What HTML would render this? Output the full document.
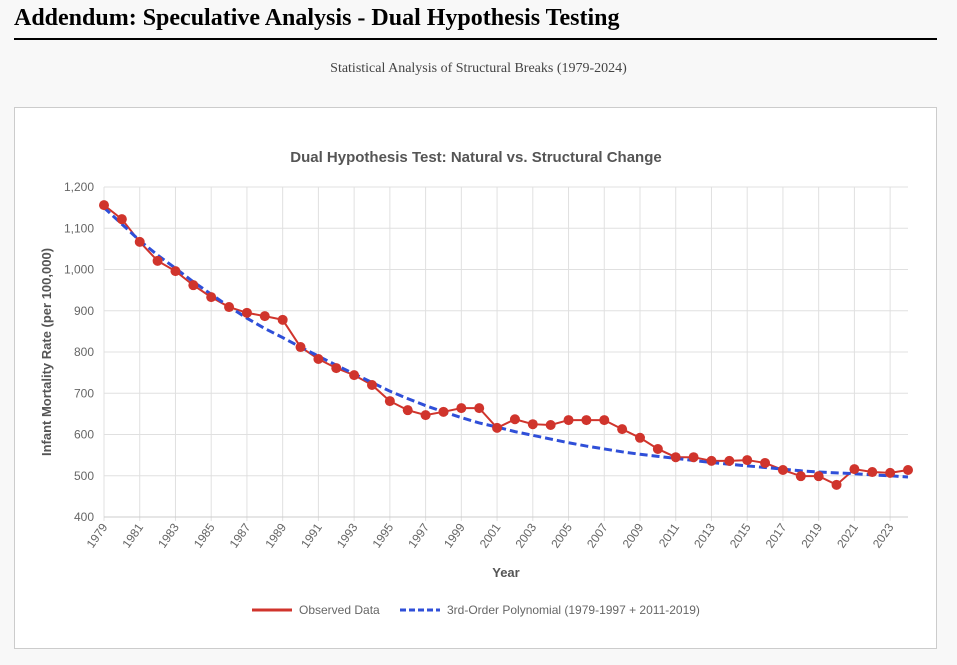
<!DOCTYPE html>
<html><head><meta charset="utf-8"><style>
body{margin:0;background:#f8f8f8;width:957px;height:665px;overflow:hidden;font-family:"Liberation Serif",serif}
h1{position:absolute;left:14px;top:5px;margin:0;font-size:24px;font-weight:bold;color:#000}
.rule{position:absolute;left:14px;top:38px;width:923px;height:2px;background:#000}
.sub{position:absolute;left:0;width:957px;top:61px;text-align:center;font-size:14px;color:#444}
.box{position:absolute;left:14px;top:107px;width:921px;height:540px;border:1px solid #ccc;background:#fff}
svg{position:absolute;left:0;top:0}
</style></head><body>
<h1>Addendum: Speculative Analysis - Dual Hypothesis Testing</h1>
<div class="rule"></div>
<div class="sub">Statistical Analysis of Structural Breaks (1979-2024)</div>
<div class="box"></div>
<svg id="c" width="957" height="665"></svg>
<script>
const years=[];for(let y=1979;y<=2024;y++)years.push(y);
const observed=[1156,1122,1067,1021,996,962,933,909,895,887,878,812,783,761,744,720,681,659,647,655,664,664,616,637,625,623,635,635,635,613,592,565,545,545,536,536,538,531,514,499,499,478,516,509,507,514];
const fitted=[1150,1110,1070,1035,1003,970,940,910,882,857,835,812,790,768,747,726,705,687,670,655,641,628,618,607,598,589,580,572,565,558,552,547,542,537,532,528,524,520,516,512,509,507,505,502,500,497];
const yTicks=[400,500,600,700,800,900,1000,1100,1200];
const xTickYears=years.filter((y,i)=>i%2===0);
const X0=104,X1=908,Y0=517,Y1=187;
const xs=y=>X0+(y-1979)*(X1-X0)/45;
const ys=v=>Y0-(v-400)*(Y0-Y1)/800;
const s=document.getElementById('c');const NS='http://www.w3.org/2000/svg';
function el(t,a,p){const e=document.createElementNS(NS,t);for(const k in a)e.setAttribute(k,a[k]);(p||s).appendChild(e);return e;}
const F='"Liberation Sans",Arial,sans-serif';
let t=el('text',{x:476,y:162,'text-anchor':'middle','font-family':F,'font-size':15,'font-weight':'bold',fill:'#555'});t.textContent='Dual Hypothesis Test: Natural vs. Structural Change';


yTicks.forEach(v=>{const g=el('line',{x1:X0,x2:X1,y1:ys(v),y2:ys(v),stroke:'#e0e0e0'});


const l=el('text',{x:94,y:ys(v)+4,'text-anchor':'end','font-family':F,'font-size':12,fill:'#666'});l.textContent=v.toLocaleString('en-US');

});
xTickYears.forEach(y=>{const g=el('line',{x1:xs(y),x2:xs(y),y1:Y1,y2:Y0+4,stroke:'#e0e0e0'});


const l=el('text',{x:0,y:0,'text-anchor':'end','font-family':F,'font-size':12,fill:'#666',transform:`translate(${xs(y)+4},${Y0+10}) rotate(-55)`});l.textContent=y;

});
let a=el('line',{x1:X0,x2:X1,y1:Y0,y2:Y0,stroke:'#ccc'});


t=el('text',{x:506,y:577,'text-anchor':'middle','font-family':F,'font-size':13,'font-weight':'bold',fill:'#555'});t.textContent='Year';


t=el('text',{x:0,y:0,'text-anchor':'middle','font-family':F,'font-size':13,'font-weight':'bold',fill:'#555',transform:'translate(51,352) rotate(-90)'});t.textContent='Infant Mortality Rate (per 100,000)';


let p=el('polyline',{points:years.map((y,i)=>xs(y)+','+ys(observed[i])).join(' '),fill:'none',stroke:'#d0342c','stroke-width':2});


let q=el('polyline',{points:years.map((y,i)=>xs(y)+','+ys(fitted[i])).join(' '),fill:'none',stroke:'#2f4fd8','stroke-width':3,'stroke-dasharray':'8,4'});


years.forEach((y,i)=>{const c=el('circle',{cx:xs(y),cy:ys(observed[i]),r:5,fill:'#d0342c'});

});
let l1=el('line',{x1:252,x2:292,y1:610,y2:610,stroke:'#d0342c','stroke-width':3});


t=el('text',{x:299,y:614,'font-family':F,'font-size':12,fill:'#666'});t.textContent='Observed Data';


let l2=el('line',{x1:400,x2:440,y1:610,y2:610,stroke:'#2f4fd8','stroke-width':3,'stroke-dasharray':'6,3'});


t=el('text',{x:447,y:614,'font-family':F,'font-size':12,fill:'#666'});t.textContent='3rd-Order Polynomial (1979-1997 + 2011-2019)';


</script>
</body></html>
